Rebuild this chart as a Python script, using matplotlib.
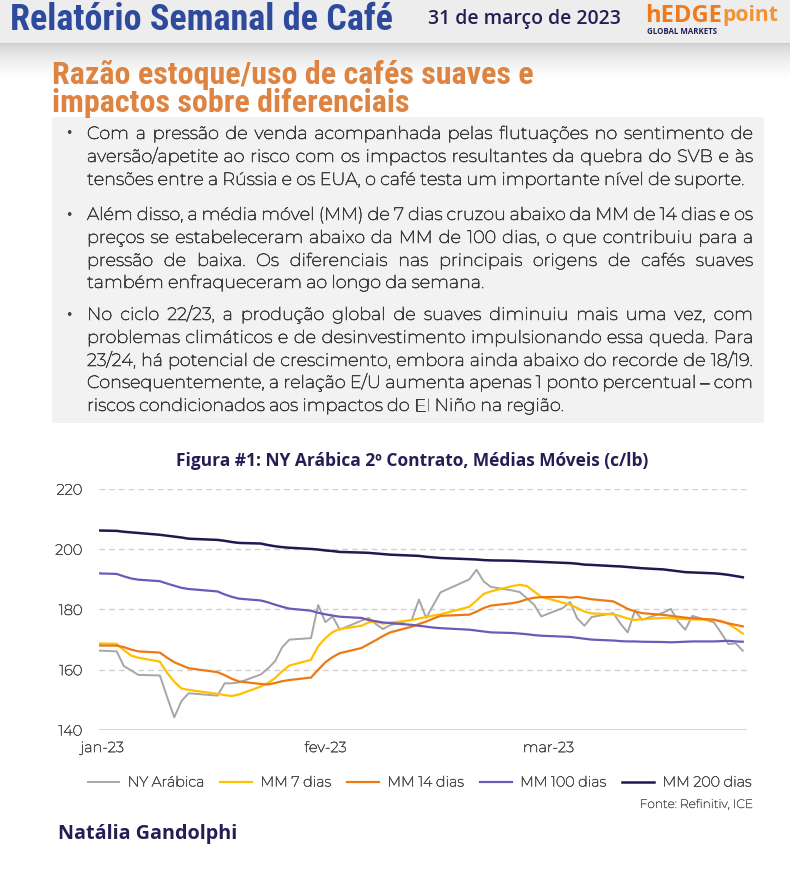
import numpy as np
import pandas as pd
import matplotlib
matplotlib.use('Agg')
import matplotlib.pyplot as plt
import matplotlib.patheffects as pe
from matplotlib import font_manager
from matplotlib.font_manager import FontProperties, findfont
from matplotlib.patches import Rectangle

#### dados ####
datas = pd.bdate_range('2022-12-30', '2023-03-31')
datas = datas.drop(pd.to_datetime(['2023-01-02', '2023-01-16', '2023-02-20']))

ny_arabica = [166.5,
              166.1, 161.2, 159.8, 158.3, 158.1, 151.0, 144.2, 149.6, 152.2, 151.4,
              155.5, 155.5, 155.8, 158.4, 160.4, 162.8, 167.5, 170.0, 170.5, 181.5,
              175.8, 177.7, 173.3, 176.3, 177.2, 175.2, 173.5, 174.8, 176.6, 183.3,
              177.2, 181.5, 185.7, 190.0, 193.2, 189.3, 187.5, 186.3, 185.8,
              183.7, 181.6, 177.7, 180.5, 182.5, 177.0, 174.6, 177.5, 178.8, 175.3,
              172.4, 179.6, 176.6, 179.0, 180.2, 176.0, 173.3, 177.9, 175.7, 172.2,
              168.5, 168.8, 166.3]
mm7 = [168.8,
       168.6, 166.5, 164.7, 164.0, 162.7, 159.0, 156.0, 153.8, 153.3, 152.0,
       151.6, 151.3, 151.8, 154.4, 155.6, 157.2, 159.5, 161.4, 163.3, 167.8,
       170.5, 172.5, 173.5, 174.6, 175.7, 176.0, 175.3, 175.6, 176.5, 177.0,
       177.5, 178.0, 178.4, 180.9, 183.0, 185.2, 186.0, 187.8, 188.2,
       187.8, 186.0, 184.2, 182.3, 181.6, 180.5, 179.3, 178.7, 178.4, 177.8,
       177.0, 176.5, 176.8, 177.2, 177.1, 176.9, 176.8, 176.7, 176.6, 176.2,
       175.2, 173.7, 172.0]
mm14 = [168.1,
        168.0, 167.5, 166.7, 166.1, 165.7, 164.0, 162.5, 161.5, 160.5, 159.2,
        158.2, 157.0, 156.1, 155.3, 155.1, 155.6, 156.2, 156.6, 157.4, 160.0,
        162.5, 164.2, 165.5, 167.2, 168.5, 169.8, 171.2, 172.4, 174.3, 175.2,
        176.0, 177.0, 177.9, 178.3, 179.3, 180.5, 181.3, 182.1, 182.6,
        183.4, 183.9, 184.1, 184.2, 183.9, 184.2, 183.8, 183.4, 182.7, 181.5,
        180.2, 179.4, 178.8, 178.2, 177.9, 177.6, 177.3, 177.1, 176.6, 176.0,
        175.4, 174.9, 174.4]
mm100 = [192.1,
         191.8, 191.0, 190.3, 189.9, 189.4, 188.6, 187.9, 187.2, 186.8, 186.0,
         185.0, 184.2, 183.6, 183.0, 182.4, 181.6, 180.9, 180.3, 179.6, 178.9,
         178.4, 178.0, 177.6, 177.2, 176.5, 176.1, 175.7, 175.5, 174.9, 174.6,
         174.3, 174.0, 173.8, 173.3, 173.0, 172.7, 172.4, 172.2, 172.0,
         171.8, 171.5, 171.3, 171.0, 170.9, 170.6, 170.3, 170.0, 169.7, 169.5,
         169.4, 169.4, 169.3, 169.2, 169.1, 169.2, 169.3, 169.4, 169.4, 169.5,
         169.6, 169.4, 169.3]
mm200 = [206.3,
         206.1, 205.8, 205.6, 205.4, 204.8, 204.5, 204.2, 203.9, 203.5, 203.1,
         202.8, 202.4, 202.1, 201.9, 201.4, 201.0, 200.7, 200.5, 200.1, 199.9,
         199.6, 199.4, 199.1, 198.9, 198.8, 198.6, 198.4, 198.2, 197.9, 197.8,
         197.5, 197.3, 197.1, 196.7, 196.6, 196.4, 196.3, 196.2, 196.1,
         196.0, 195.9, 195.8, 195.5, 195.4, 195.2, 194.9, 194.8, 194.4, 194.3,
         194.1, 193.9, 193.7, 193.3, 193.0, 192.7, 192.4, 192.3, 192.0, 191.8,
         191.5, 191.1, 190.7]

series_nomes = ['NY Arábica', 'MM 7 dias', 'MM 14 dias', 'MM 100 dias', 'MM 200 dias']
series_cores = ['#A6A6A6', '#FFC000', '#EB7A16', '#6F58B8', '#1E1A4F']
yticks = [140, 160, 180, 200, 220]
tick_datas = ['2023-01-01', '2023-02-01', '2023-03-04']
tick_nomes = ['jan-23', 'fev-23', 'mar-23']

paragrafos = [
    ["Com a pressão de venda acompanhada pelas flutuações no sentimento de",
     "aversão/apetite ao risco com os impactos resultantes da quebra do SVB e às",
     "tensões entre a Rússia e os EUA, o café testa um importante nível de suporte."],
    ["Além disso, a média móvel (MM) de 7 dias cruzou abaixo da MM de 14 dias e os",
     "preços se estabeleceram abaixo da MM de 100 dias, o que contribuiu para a",
     "pressão de baixa. Os diferenciais nas principais origens de cafés suaves",
     "também enfraqueceram ao longo da semana."],
    ["No ciclo 22/23, a produção global de suaves diminuiu mais uma vez, com",
     "problemas climáticos e de desinvestimento impulsionando essa queda. Para",
     "23/24, há potencial de crescimento, embora ainda abaixo do recorde de 18/19.",
     "Consequentemente, a relação E/U aumenta apenas 1 ponto percentual – com",
     "riscos condicionados aos impactos do El Niño na região."],
]
linhas_y = [[134, 157, 180], [215, 238, 261, 283], [315, 338, 361, 383, 406]]

#### fontes ####
nomes = {f.name for f in font_manager.fontManager.ttflist}
def escolhe(*cands):
    for c in cands:
        if c in nomes:
            return c
    return 'DejaVu Sans'

def tem_negrito(fam):
    try:
        a = findfont(FontProperties(family=fam, weight='bold'), fallback_to_default=False)
        b = findfont(FontProperties(family=fam, weight='normal'), fallback_to_default=False)
    except Exception:
        return False
    return a != b

fonte_txt = escolhe('Montserrat', 'Open Sans', 'Noto Sans', 'Lato')
fonte_negr = fonte_txt
if not tem_negrito(fonte_negr):
    fonte_negr = escolhe('Open Sans', 'Noto Sans', 'Lato', 'DejaVu Sans')
fonte_estreita = escolhe('Liberation Sans Narrow', 'Roboto Condensed', 'DejaVu Sans')

navy = '#231F55'
cinza_txt = '#3A3A3A'

def grosso(cor, lw=0.45):
    return [pe.withStroke(linewidth=lw, foreground=cor)]

fig = plt.figure(figsize=(7.9, 8.8), dpi=100)
fig.patch.set_facecolor('white')
renderer = fig.canvas.get_renderer()

#### fundo em pixels ####
bg = fig.add_axes([0, 0, 1, 1])
bg.axis('off')
bg.set_zorder(0)

bg.add_patch(Rectangle((0, 0), 790, 43, color='#EDEDED', lw=0))
grad = np.linspace(0, 1, 60) ** 0.6
grad = 0.80 + 0.20 * grad
bg.imshow(grad[:, None], extent=(0, 790, 78, 43), cmap='gray', vmin=0, vmax=1,
          aspect='auto', zorder=1)
bg.set_xlim(0, 790)
bg.set_ylim(880, 0)
bg.add_patch(Rectangle((52, 117), 712, 306, color='#F2F2F2', lw=0, zorder=1))


def ajusta(t, largura):
    w = t.get_window_extent(renderer).width
    t.set_fontsize(t.get_fontsize() * largura / w)


## cabeçalho ##
t = bg.text(10, 20, 'Relatório Semanal de Café', family=fonte_estreita, fontstretch='condensed',
            weight='bold', color='#2E4A9C', fontsize=22, va='center', zorder=3)
ajusta(t, 383)
t = bg.text(428, 19, '31 de março de 2023', family=fonte_negr, weight='semibold',
            color=navy, fontsize=12, va='center', zorder=3)
ajusta(t, 192)
t1 = bg.text(645, 16, 'hEDGE', family=fonte_negr, weight='bold', color='#EE7A1C',
             fontsize=14, va='center', zorder=3)
ajusta(t1, 77)
t2 = bg.text(722, 16, 'point', family=fonte_negr, weight='bold', color='#F39332',
             fontsize=14, va='center', zorder=3)
ajusta(t2, 56)
t = bg.text(647, 32, 'GLOBAL MARKETS', family=fonte_negr, weight='bold', color=navy,
            fontsize=5, va='center', zorder=3)
ajusta(t, 71)

## título da seção ##
t = bg.text(52, 89, 'Razão estoque/uso de cafés suaves e\nimpactos sobre diferenciais',
            family=fonte_estreita, fontstretch='condensed', weight='bold',
            color='#DE8443', fontsize=20, va='center', linespacing=0.93, zorder=3)
ajusta(t, 480)

## texto justificado ##
ref = bg.text(0, 0, 'riscos condicionados aos impactos do El Niño na região.',
              family=fonte_txt, fontsize=10)
fs_txt = 10 * 478 / ref.get_window_extent(renderer).width
ref.remove()

def largura(s):
    tt = bg.text(0, 0, s, family=fonte_txt, fontsize=fs_txt)
    w = tt.get_window_extent(renderer).width
    tt.remove()
    return w

espaco = largura('a a') - largura('aa')
x0, x1 = 87, 753
for par, ys in zip(paragrafos, linhas_y):
    bg.text(69, ys[0], '•', family='DejaVu Sans', fontsize=9, color='#404040',
            ha='center', va='center', zorder=3)
    for i, (linha, y) in enumerate(zip(par, ys)):
        palavras = linha.split(' ')
        textos = [bg.text(0, y + 5, p, family=fonte_txt, fontsize=fs_txt, color=cinza_txt,
                          va='baseline', zorder=3, path_effects=grosso(cinza_txt))
                  for p in palavras]
        ws = [tt.get_window_extent(renderer).width for tt in textos]
        ultima = i == len(par) - 1
        gap = espaco if ultima else (x1 - x0 - sum(ws)) / (len(ws) - 1)
        x = x0
        for tt, w in zip(textos, ws):
            tt.set_x(x)
            x += w + gap

## título do gráfico ##
t = bg.text(412, 461, 'Figura #1: NY Arábica 2º Contrato, Médias Móveis (c/lb)',
            family=fonte_negr, weight='bold', color=navy, fontsize=11,
            ha='center', va='center', zorder=3)
ajusta(t, 472)

t = bg.text(753, 805, 'Fonte: Refinitiv, ICE', family=fonte_txt, color='#595959',
            fontsize=8.5, ha='right', va='center', zorder=3,
            path_effects=grosso('#595959', 0.3))
ajusta(t, 113)
t = bg.text(58, 834, 'Natália Gandolphi', family=fonte_negr, weight='bold', color=navy,
            fontsize=12, va='center', zorder=3)
ajusta(t, 179)

#### gráfico ####
ax = fig.add_axes([99 / 790, 150 / 880, 648 / 790, 241 / 880])
ax.set_zorder(2)
ax.patch.set_alpha(0)

valores = [ny_arabica, mm7, mm14, mm100, mm200]
larguras = [1.4, 1.6, 1.6, 1.6, 1.8]
for v, nome, cor, lw in zip(valores, series_nomes, series_cores, larguras):
    ax.plot(datas, v, color=cor, lw=lw, label=nome)

ax.set_ylim(140, 220)
ax.set_yticks(yticks)
ax.set_xlim(pd.Timestamp('2022-12-31 13:00'), pd.Timestamp('2023-03-31 14:00'))
ax.set_xticks(pd.to_datetime(tick_datas))
ax.set_xticklabels(tick_nomes)
for s in ax.spines.values():
    s.set_visible(False)
ax.tick_params(length=0, colors='#4D4D4D', labelsize=10.5)
ax.tick_params(axis='y', pad=12)
ax.tick_params(axis='x', pad=8)
for lab in ax.get_xticklabels() + ax.get_yticklabels():
    lab.set_family(fonte_txt)
    lab.set_path_effects(grosso('#4D4D4D', 0.4))
for yv in yticks[1:]:
    ax.axhline(yv, color='#D0D0D0', lw=1, ls=(0, (4, 3)), zorder=0)
ax.axhline(140, color='#D9D9D9', lw=1.5, zorder=0)

leg = ax.legend(loc='center', bbox_to_anchor=(419.5 / 790, 1 - 783 / 880),
                bbox_transform=fig.transFigure, ncol=5, frameon=False,
                handlelength=2.2, handletextpad=0.6, columnspacing=1.15,
                prop={'family': fonte_txt, 'size': 10.3})
for tx in leg.get_texts():
    tx.set_color('#4D4D4D')
    tx.set_path_effects(grosso('#4D4D4D', 0.4))

fig.savefig('out.png', dpi=100)
